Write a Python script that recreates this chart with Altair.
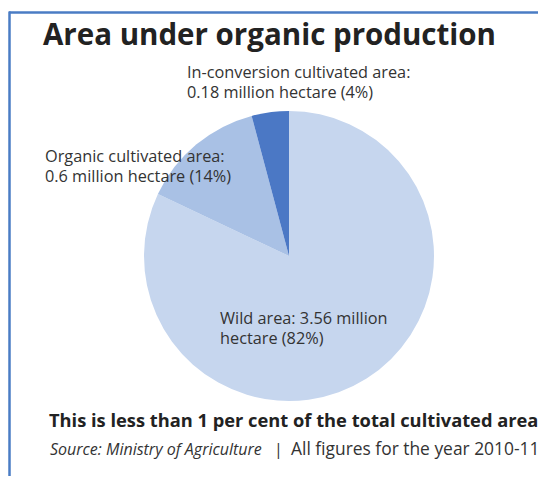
import altair as alt
import pandas as pd

# ---- data ----
categories = ["Wild area", "Organic cultivated area", "In-conversion cultivated area"]
values = [3.56, 0.6, 0.18]          # million hectare
shares = [82, 14, 4]                # per cent
label_line1 = ["Wild area: 3.56 million", "Organic cultivated area:", "In-conversion cultivated area:"]
label_line2 = ["hectare (82%)", "0.6 million hectare (14%)", "0.18 million hectare (4%)"]
title_text = "Area under organic production"
note_text = "This is less than 1 per cent of the total cultivated area"
source_text = "Source: Ministry of Agriculture"
sep_text = "|"
period_text = "All figures for the year 2010-11"

# ---- styling ----
colors = ["#c6d6ee", "#a9c1e5", "#4b78c5"]
FONT = "Open Sans"
TXT = "#333333"
W, H = 530, 468

one = pd.DataFrame({"k": [0]})

df = pd.DataFrame({"category": categories, "value": values, "order": list(range(len(categories)))})
pie = alt.Chart(df).mark_arc(outerRadius=145).encode(
    theta=alt.Theta("value:Q", stack=True),
    color=alt.Color("category:N", scale=alt.Scale(domain=categories, range=colors), legend=None),
    order=alt.Order("order:Q"),
    x=alt.value(281),
    y=alt.value(248),
)


def txt(s, x, y, size=13, weight="normal", style="normal", color=TXT):
    return alt.Chart(one).mark_text(
        font=FONT, fontSize=size, fontWeight=weight, fontStyle=style,
        align="left", baseline="alphabetic", color=color,
    ).encode(x=alt.value(x), y=alt.value(y), text=alt.value(s))


layers = [pie]
layers.append(txt(title_text, 35, 37, size=29.5, weight="bold", color="#222222"))
# labels: wild, organic, in-conversion
label_pos = [(212, 316), (37, 154), (179, 70)]
for (x, y), l1, l2 in zip(label_pos, label_line1, label_line2):
    layers.append(txt(l1, x, y, size=16.3))
    layers.append(txt(l2, x, y + 20, size=16.3))
layers.append(txt(note_text, 41, 419, size=18.3, weight="bold", color="#222222"))
layers.append(txt(source_text, 42, 447, size=16, style="italic"))
layers.append(txt(sep_text, 266, 447, size=16))
layers.append(txt(period_text, 283, 447, size=17.4))

border_top = alt.Chart(one).mark_rule(color="#4a7cc4", strokeWidth=2.5).encode(
    x=alt.value(1), x2=alt.value(W), y=alt.value(4.5))
border_left = alt.Chart(one).mark_rule(color="#4a7cc4", strokeWidth=2.5).encode(
    x=alt.value(1.5), y=alt.value(3.5), y2=alt.value(H))
layers += [border_top, border_left]

chart = alt.layer(*layers).properties(
    width=W, height=H, autosize="none", padding=0
).configure_view(stroke=None)

chart.save("out.html", embed_options={"renderer": "svg", "actions": False})
